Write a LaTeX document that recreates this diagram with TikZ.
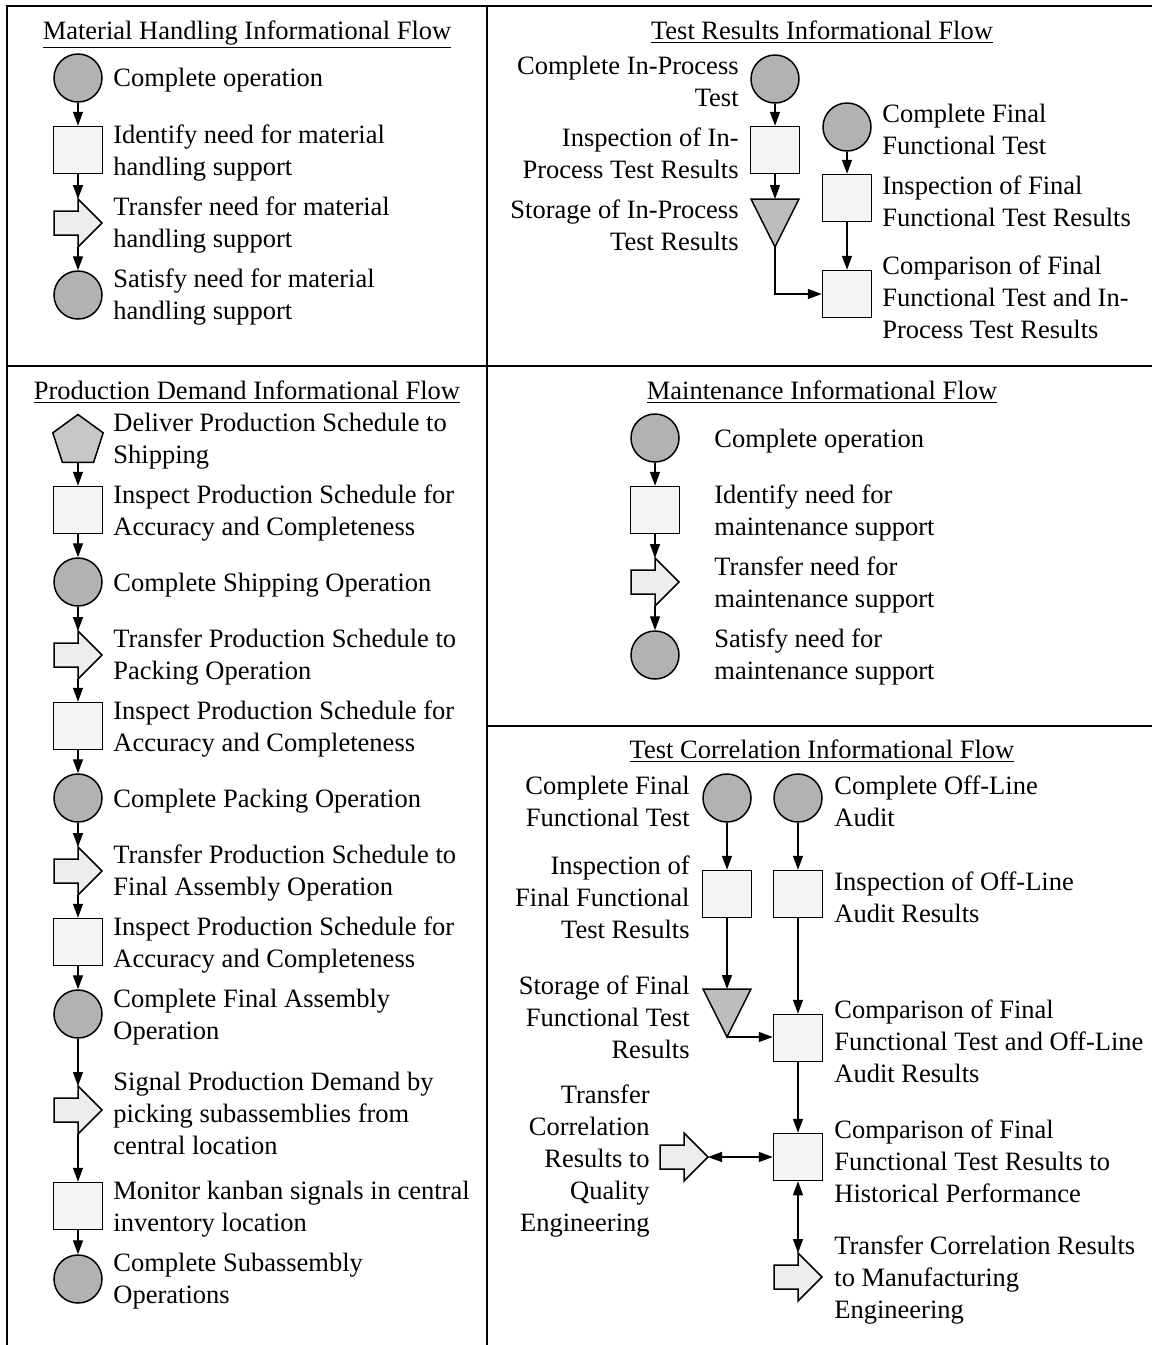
\documentclass[tikz,border=0pt]{standalone}
\usepackage{fontspec}
\setmainfont{Liberation Serif}
\usetikzlibrary{arrows.meta,shapes.geometric}
\definecolor{opgray}{gray}{0.70}
\definecolor{boxgray}{gray}{0.96}
\definecolor{arrowgray}{gray}{0.93}
\definecolor{pentgray}{gray}{0.78}
\definecolor{storegray}{gray}{0.74}
\newcommand\flowfont{\fontsize{13.25pt}{16pt}\selectfont}
\tikzset{
  framerule/.style={line width=1pt},
  opcircle/.style={circle,draw,line width=0.75pt,fill=opgray,minimum size=24pt,inner sep=0pt},
  inspectbox/.style={rectangle,draw,line width=0.75pt,fill=boxgray,minimum width=24.5pt,
    minimum height=23.5pt,inner sep=0pt},
  deliverpent/.style={regular polygon,regular polygon sides=5,draw,line width=0.75pt,
    fill=pentgray,minimum size=26.5pt,inner sep=0pt},
  transferfill/.style={draw,line width=0.75pt,fill=arrowgray,line join=miter},
  storefill/.style={draw,line width=0.75pt,fill=storegray,line join=miter},
  flowarrow/.style={-{Triangle[length=7pt,width=5pt]},line width=0.7pt},
  twoway/.style={{Triangle[length=7pt,width=5pt]}-{Triangle[length=7pt,width=5pt]},line width=0.7pt},
  steplabel/.style={anchor=west,align=left,inner sep=0pt,font=\flowfont,yshift=-1pt},
  steplabelr/.style={anchor=east,align=right,inner sep=0pt,font=\flowfont,yshift=-1pt},
  flowtitle/.style={anchor=base,inner sep=0pt,font=\flowfont},
  transferpic/.pic={
    \draw[transferfill] (-24,-12) -- (0,-12) -- (0,-24) -- (24,0) -- (0,24) -- (0,12)
      -- (-24,12) -- cycle;
    \coordinate (-top) at (0,-24);
    \coordinate (-bot) at (0,24);
    \coordinate (-tip) at (24,0);
  },
  storepic/.pic={
    \draw[storefill] (-24,-24) -- (24,-24) -- (0,24) -- cycle;
    \coordinate (-top) at (0,-24);
    \coordinate (-apex) at (0,24);
  }
}
\begin{document}
\begin{tikzpicture}[x=0.5pt,y=-0.5pt]
  \useasboundingbox (0,0) rectangle (1152,1345);
  % frame
  \draw[framerule] (7,1345) -- (7,6) -- (1152,6);
  \draw[framerule] (487,6) -- (487,1345);
  \draw[framerule] (7,366) -- (1152,366);
  \draw[framerule] (487,726) -- (1152,726);

  % material handling
  \node[flowtitle] (mhtitle) at (247,39) {\underline{Material Handling Informational Flow}};
  \node[opcircle] (mh1) at (78,78) {};
  \node[inspectbox] (mh2) at (78,150) {};
  \pic (mh3) at (78,223) {transferpic};
  \node[opcircle] (mh4) at (78,295) {};
  \node[steplabel] at (113,78) {Complete operation};
  \node[steplabel] at (113,151) {Identify need for material\\handling support};
  \node[steplabel] at (113,223) {Transfer need for material\\handling support};
  \node[steplabel] at (113,295) {Satisfy need for material\\handling support};
  \draw[flowarrow] (mh1) -- (mh2);
  \draw[flowarrow] (mh2) -- (mh3-top);
  \draw[flowarrow] (mh3-bot) -- (mh4);

  % test results
  \node[flowtitle] (trtitle) at (822,39) {\underline{Test Results Informational Flow}};
  \node[opcircle] (tr1) at (775,79) {};
  \node[inspectbox] (tr2) at (775,150) {};
  \pic (tr3) at (775,223) {storepic};
  \node[opcircle] (tr4) at (847,127) {};
  \node[inspectbox] (tr5) at (847,198) {};
  \node[inspectbox] (tr6) at (847,294) {};
  \node[steplabelr] at (739,79) {Complete In-Process\\Test};
  \node[steplabelr] at (739,151) {Inspection of In-\\Process Test Results};
  \node[steplabelr] at (739,223) {Storage of In-Process\\Test Results};
  \node[steplabel] at (882,127) {Complete Final\\Functional Test};
  \node[steplabel] at (882,199) {Inspection of Final\\Functional Test Results};
  \node[steplabel] at (882,295) {Comparison of Final\\Functional Test and In-\\Process Test Results};
  \draw[flowarrow] (tr1) -- (tr2);
  \draw[flowarrow] (tr2) -- (tr3-top);
  \draw[flowarrow] (tr3-apex) |- (tr6.west);
  \draw[flowarrow] (tr4) -- (tr5);
  \draw[flowarrow] (tr5) -- (tr6);

  % production demand
  \node[flowtitle] (pdtitle) at (247,399) {\underline{Production Demand Informational Flow}};
  \node[deliverpent] (pd1) at (78,441) {};
  \node[inspectbox] (pd2) at (78,510) {};
  \node[opcircle] (pd3) at (78,582) {};
  \pic (pd4) at (78,655) {transferpic};
  \node[inspectbox] (pd5) at (78,726) {};
  \node[opcircle] (pd6) at (78,798) {};
  \pic (pd7) at (78,871) {transferpic};
  \node[inspectbox] (pd8) at (78,942) {};
  \node[opcircle] (pd9) at (78,1014) {};
  \pic (pd10) at (78,1110) {transferpic};
  \node[inspectbox] (pd11) at (78,1206) {};
  \node[opcircle] (pd12) at (78,1279) {};
  \node[steplabel] at (113,439) {Deliver Production Schedule to\\Shipping};
  \node[steplabel] at (113,511) {Inspect Production Schedule for\\Accuracy and Completeness};
  \node[steplabel] at (113,583) {Complete Shipping Operation};
  \node[steplabel] at (113,655) {Transfer Production Schedule to\\Packing Operation};
  \node[steplabel] at (113,727) {Inspect Production Schedule for\\Accuracy and Completeness};
  \node[steplabel] at (113,799) {Complete Packing Operation};
  \node[steplabel] at (113,871) {Transfer Production Schedule to\\Final Assembly Operation};
  \node[steplabel] at (113,943) {Inspect Production Schedule for\\Accuracy and Completeness};
  \node[steplabel] at (113,1015) {Complete Final Assembly\\Operation};
  \node[steplabel] at (113,1111) {Signal Production Demand by\\picking subassemblies from\\central location};
  \node[steplabel] at (113,1207) {Monitor kanban signals in central\\inventory location};
  \node[steplabel] at (113,1279) {Complete Subassembly\\Operations};
  \draw[flowarrow] (pd1.south) -- (pd2);
  \draw[flowarrow] (pd2) -- (pd3);
  \draw[flowarrow] (pd3) -- (pd4-top);
  \draw[flowarrow] (pd4-bot) -- (pd5);
  \draw[flowarrow] (pd5) -- (pd6);
  \draw[flowarrow] (pd6) -- (pd7-top);
  \draw[flowarrow] (pd7-bot) -- (pd8);
  \draw[flowarrow] (pd8) -- (pd9);
  \draw[flowarrow] (pd9) -- (pd10-top);
  \draw[flowarrow] (pd10-bot) -- (pd11);
  \draw[flowarrow] (pd11) -- (pd12);

  % maintenance
  \node[flowtitle] (mttitle) at (822,399) {\underline{Maintenance Informational Flow}};
  \node[opcircle] (mt1) at (655,438) {};
  \node[inspectbox] (mt2) at (655,510) {};
  \pic (mt3) at (655,582) {transferpic};
  \node[opcircle] (mt4) at (655,655) {};
  \node[steplabel] at (714,439) {Complete operation};
  \node[steplabel] at (714,511) {Identify need for\\maintenance support};
  \node[steplabel] at (714,583) {Transfer need for\\maintenance support};
  \node[steplabel] at (714,655) {Satisfy need for\\maintenance support};
  \draw[flowarrow] (mt1) -- (mt2);
  \draw[flowarrow] (mt2) -- (mt3-top);
  \draw[flowarrow] (mt3-bot) -- (mt4);

  % test correlation
  \node[flowtitle] (tctitle) at (822,758) {\underline{Test Correlation Informational Flow}};
  \node[opcircle] (tc1) at (727,798) {};
  \node[opcircle] (tc2) at (798,798) {};
  \node[inspectbox] (tc3) at (727,894) {};
  \node[inspectbox] (tc4) at (798,894) {};
  \pic (tc5) at (727,1013) {storepic};
  \node[inspectbox] (tc6) at (798,1038) {};
  \node[inspectbox] (tc7) at (798,1157) {};
  \pic (tc8) at (684,1157) {transferpic};
  \pic (tc9) at (798,1277) {transferpic};
  \node[steplabelr] at (690,799) {Complete Final\\Functional Test};
  \node[steplabel] at (834,799) {Complete Off-Line\\Audit};
  \node[steplabelr] at (690,895) {Inspection of\\Final Functional\\Test Results};
  \node[steplabel] at (834,895) {Inspection of Off-Line\\Audit Results};
  \node[steplabelr] at (690,1015) {Storage of Final\\Functional Test\\Results};
  \node[steplabel] at (834,1039) {Comparison of Final\\Functional Test and Off-Line\\Audit Results};
  \node[steplabel] at (834,1159) {Comparison of Final\\Functional Test Results to\\Historical Performance};
  \node[steplabelr] at (650,1159) {Transfer\\Correlation\\Results to\\Quality\\Engineering};
  \node[steplabel] at (834,1278) {Transfer Correlation Results\\to Manufacturing\\Engineering};
  \draw[flowarrow] (tc1) -- (tc3);
  \draw[flowarrow] (tc2) -- (tc4);
  \draw[flowarrow] (tc3) -- (tc5-top);
  \draw[flowarrow] (tc5-apex) -- (tc5-apex -| tc6.west);
  \draw[flowarrow] (tc4) -- (tc6);
  \draw[flowarrow] (tc6) -- (tc7);
  \draw[twoway] (tc8-tip) -- (tc7.west);
  \draw[twoway] (tc7.south) -- (tc9-top);
\end{tikzpicture}
\end{document}
